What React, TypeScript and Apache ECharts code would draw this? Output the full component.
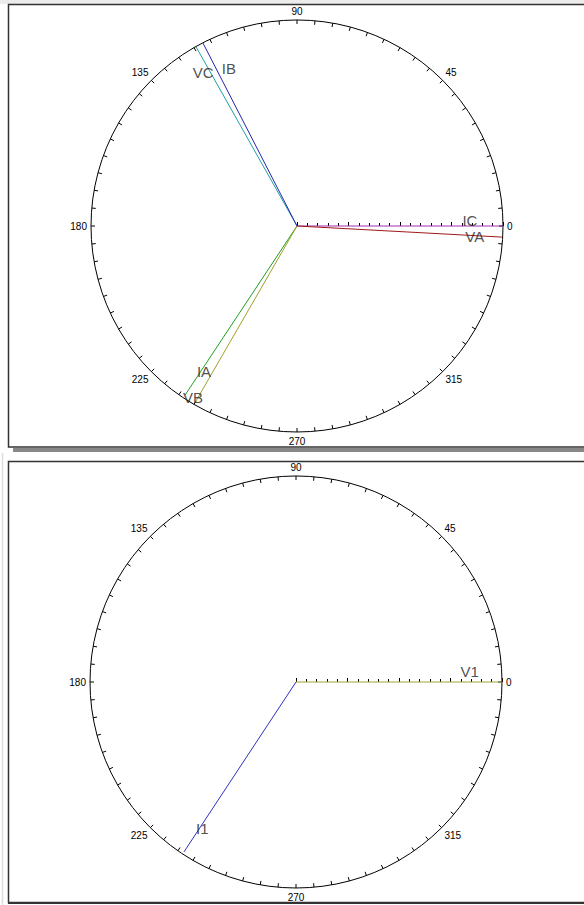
import React, { useEffect, useRef } from "react";
import * as echarts from "echarts";

// Phasor diagrams (magnitude in % of full scale, angle in degrees)
const topNames = ["IC", "VA", "VC", "IB", "IA", "VB"];
const topMagnitudes = [100, 99.6, 99.8, 99.9, 98.4, 99.0];
const topAngles = [0, 356.9, 119.4, 117.2, 236.5, 240.0];
const topColors = ["#a030b0", "#a01818", "#20a0a0", "#2424b0", "#20a020", "#a0a028"];
const topLabelRadii = [173, 178, 180, 172, 173, 201];
const topLabelAngles = [1.9, 356.6, 121.4, 113.3, 237.5, 238.8];

const bottomNames = ["V1", "I1"];
const bottomMagnitudes = [100, 98.8];
const bottomAngles = [0, 236.6];
const bottomColors = ["#a0a030", "#3030c0"];
const bottomLabelRadii = [174, 174];
const bottomLabelAngles = [3.6, 237.4];

const angleTickLabels = [0, 45, 90, 135, 180, 225, 270, 315];

const RADIUS_PX = 206;

export default function App() {
  const ref = useRef<HTMLDivElement>(null);

  useEffect(() => {
    if (!ref.current) return;
    const chart = echarts.init(ref.current, undefined, { renderer: "svg" });

    const angleAxis = (polarIndex: number) => ({
      polarIndex,
      type: "value",
      min: 0,
      max: 360,
      interval: 5,
      startAngle: 0,
      clockwise: false,
      axisLine: { show: true, lineStyle: { color: "#000", width: 1 } },
      axisTick: { show: true, inside: true, length: 4, lineStyle: { color: "#000", width: 1 } },
      axisLabel: {
        show: true,
        margin: 4,
        fontSize: 10,
        fontFamily: "Liberation Sans",
        color: "#000",
        formatter: (v: number) => (angleTickLabels.includes(v) ? String(v) : ""),
      },
      splitLine: { show: false },
    });

    const radiusAxis = (polarIndex: number) => ({
      polarIndex,
      type: "value",
      min: 0,
      max: 100,
      interval: 25,
      axisLine: { show: false },
      axisTick: { show: true, length: 4, lineStyle: { color: "#000" } },
      minorTick: { show: true, splitNumber: 5, length: 3, lineStyle: { color: "#000" } },
      axisLabel: { show: false },
      splitLine: { show: false },
    });

    const toPct = (r: number) => (r / RADIUS_PX) * 100;

    const phasorSeries = (
      polarIndex: number,
      names: string[],
      mags: number[],
      angs: number[],
      colors: string[]
    ) =>
      names.map((n, i) => ({
        type: "line",
        name: n,
        coordinateSystem: "polar",
        polarIndex,
        symbol: "none",
        z: 5,
        lineStyle: { color: colors[i], width: 1 },
        data: [
          [0, angs[i]],
          [mags[i], angs[i]],
        ],
      }));

    const labelSeries = (polarIndex: number, names: string[], radii: number[], angs: number[]) => ({
      type: "scatter",
      coordinateSystem: "polar",
      polarIndex,
      symbolSize: 0,
      z: 6,
      label: {
        show: true,
        position: "inside",
        formatter: "{b}",
        fontSize: 15,
        fontFamily: "Liberation Sans",
        color: "#222",
      },
      data: names.map((n, i) => ({ name: n, value: [toPct(radii[i]), angs[i]] })),
    });

    chart.setOption({
      animation: false,
      backgroundColor: "#fff",
      polar: [
        { center: [297, 226], radius: RADIUS_PX },
        { center: [296, 682], radius: RADIUS_PX },
      ],
      angleAxis: [angleAxis(0), angleAxis(1)],
      radiusAxis: [radiusAxis(0), radiusAxis(1)],
      series: [
        ...phasorSeries(0, topNames, topMagnitudes, topAngles, topColors),
        ...phasorSeries(1, bottomNames, bottomMagnitudes, bottomAngles, bottomColors),
        labelSeries(0, topNames, topLabelRadii, topLabelAngles),
        labelSeries(1, bottomNames, bottomLabelRadii, bottomLabelAngles),
      ],
      graphic: [
        { type: "rect", shape: { x: 0, y: 0, width: 584, height: 4 }, style: { fill: "#ececec" }, silent: true },
        {
          type: "rect",
          shape: { x: 8.5, y: 4.5, width: 600, height: 442.5 },
          style: { fill: "none", stroke: "#333", lineWidth: 1.5 },
          silent: true,
        },
        { type: "rect", shape: { x: 13, y: 448, width: 580, height: 4 }, style: { fill: "#888" }, silent: true },
        {
          type: "line",
          shape: { x1: 2.5, y1: 453, x2: 2.5, y2: 905 },
          style: { stroke: "#ddd", lineWidth: 1.5 },
          silent: true,
        },
        {
          type: "rect",
          shape: { x: 8.5, y: 461.5, width: 600, height: 441 },
          style: { fill: "none", stroke: "#333", lineWidth: 1.5 },
          silent: true,
        },
        {
          type: "line",
          shape: { x1: 8, y1: 903, x2: 584, y2: 903 },
          style: { stroke: "#333", lineWidth: 2 },
          silent: true,
        },
      ],
    });

    return () => chart.dispose();
  }, []);

  return (
    <div
      ref={ref}
      style={{ position: "absolute", left: 0, top: 0, width: 584, height: 905 }}
    />
  );
}
